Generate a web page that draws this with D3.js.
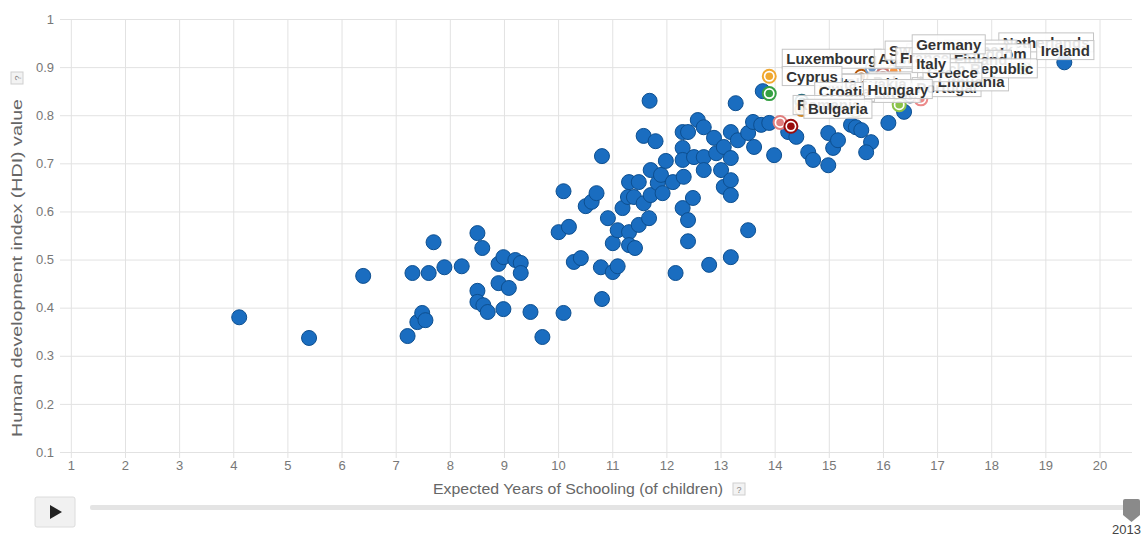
<!DOCTYPE html>
<html>
<head>
<meta charset="utf-8">
<script src="https://cdn.jsdelivr.net/npm/d3@7"></script>
<style>
  html, body { margin: 0; padding: 0; background: #fff; }
  svg { display: block; font-family: "Liberation Sans", Arial, sans-serif; }
</style>
</head>
<body>
<svg id="chart" width="1141" height="537"></svg>
<script>
// ---------------- DATA ----------------
const xTicks = [1,2,3,4,5,6,7,8,9,10,11,12,13,14,15,16,17,18,19,20];
const yTicks = [0.1,0.2,0.3,0.4,0.5,0.6,0.7,0.8,0.9,1];
const yTickLabels = ["0.1","0.2","0.3","0.4","0.5","0.6","0.7","0.8","0.9","1"];
const xTitle = "Expected Years of Schooling (of children)";
const yTitle = "Human development index (HDI) value";
const yearLabel = "2013";

// all other countries (expected years of schooling, HDI)
const schooling = [4.11,5.40,6.40,7.22,7.31,7.40,7.49,7.55,7.61,7.70,7.90,8.22,8.51,8.60,8.51,8.51,8.62,8.70,8.90,8.99,
  9.21,9.31,9.31,8.90,9.09,8.99,9.49,9.71,10.01,10.20,10.10,10.10,10.29,10.42,10.51,10.62,10.71,10.81,10.79,10.81,
  10.92,11.01,11.01,11.10,11.10,11.19,11.31,11.29,11.40,11.31,11.31,11.42,11.49,11.49,11.58,11.58,11.68,11.69,11.71,11.71,
  11.80,11.84,11.90,11.93,11.99,12.12,12.17,12.30,12.40,12.30,12.30,12.32,12.30,12.40,12.40,12.49,12.51,12.58,12.69,12.69,
  12.69,12.79,12.88,12.92,13.01,13.06,13.06,13.19,13.19,13.19,13.19,13.19,13.28,13.32,13.51,13.51,13.60,13.62,13.75,13.78,
  13.90,13.99,14.25,14.40,14.62,14.71,14.99,14.99,15.08,15.17,15.41,15.50,15.60,15.78,15.69,16.10,16.39,19.35];
const hdi = [0.380,0.337,0.466,0.341,0.472,0.370,0.389,0.374,0.472,0.536,0.484,0.486,0.555,0.524,0.435,0.412,0.405,0.391,0.491,0.505,
  0.499,0.493,0.472,0.451,0.441,0.397,0.391,0.339,0.557,0.568,0.389,0.642,0.495,0.503,0.611,0.620,0.638,0.715,0.484,0.418,
  0.586,0.534,0.474,0.486,0.561,0.607,0.661,0.630,0.630,0.557,0.530,0.524,0.661,0.572,0.757,0.617,0.586,0.830,0.686,0.634,
  0.746,0.659,0.676,0.638,0.705,0.661,0.472,0.765,0.765,0.732,0.707,0.672,0.607,0.582,0.538,0.628,0.713,0.790,0.775,0.713,
  0.686,0.489,0.753,0.721,0.686,0.734,0.651,0.765,0.711,0.665,0.634,0.505,0.825,0.748,0.763,0.561,0.786,0.734,0.780,0.850,
  0.784,0.717,0.765,0.755,0.723,0.707,0.696,0.763,0.732,0.748,0.780,0.775,0.769,0.744,0.723,0.784,0.807,0.910];

// selected (labelled) countries, in drawing order
const euCountries = ["Netherlands","Denmark","Spain","Slovenia","Belgium","United Kingdom","Estonia","Poland","Latvia",
  "Slovakia","Malta","Portugal","Luxembourg","Austria","Sweden","France","Finland","Lithuania","Czech Republic","Greece",
  "Italy","Germany","Ireland","Cyprus","Croatia","Hungary","Romania","Bulgaria"];
const euSchooling = [17.9,16.9,17.1,16.8,16.2,16.2,16.5,15.5,15.5,15.0,14.5,16.3,13.9,15.6,15.8,16.0,17.0,16.7,16.4,16.5,
  16.3,16.3,18.6,13.9,14.5,15.4,14.1,14.3];
const euHdi = [0.915,0.900,0.869,0.874,0.881,0.892,0.840,0.834,0.810,0.830,0.829,0.822,0.881,0.881,0.898,0.884,0.879,0.834,
  0.861,0.853,0.872,0.911,0.899,0.845,0.812,0.818,0.785,0.777];
const euColors = ["#6a9fd8","#c0504d","#9bbb59","#8064a2","#4bacc6","#f79646","#2c4d75","#772c2a","#5f7530",
  "#4d3b62","#276a7c","#8bc34a","#f0a830","#b65708","#729aca","#cd7371","#afc97a","#ec8a8a","#a99bbd","#6fbdd1",
  "#f9ab6b","#3a6ea5","#5aa05a","#35a043","#d08a2c","#7b5aa6","#e07f7f","#9a0d0d"];

// ---------------- LAYOUT ----------------
const svg = d3.select("#chart");
const L = 60, R = 1132, T = 19, B = 452;
const x = d3.scaleLinear().domain([0.8, 20.6]).range([L, R]);
const y = d3.scaleLinear().domain([0.1, 1]).range([B, T]);
const gridColor = "#e2e2e2";
const tickColor = "#777";

// horizontal grid + y labels
const yAxis = d3.axisLeft(y).tickValues(yTicks).tickSize(-(R - L)).tickPadding(6)
  .tickFormat((d, i) => yTickLabels[i]);
const gy = svg.append("g").attr("transform", `translate(${L},0)`).call(yAxis);
gy.select(".domain").remove();
gy.selectAll(".tick line").attr("stroke", gridColor);
gy.selectAll(".tick text").attr("fill", tickColor).style("font-size", "13px")
  .style("font-family", '"Liberation Sans", Arial, sans-serif');

// vertical grid
const xGrid = d3.axisBottom(x).tickValues(xTicks).tickSize(-(B - T)).tickFormat("");
const gxg = svg.append("g").attr("transform", `translate(0,${B})`).call(xGrid);
gxg.select(".domain").remove();
gxg.selectAll(".tick line").attr("stroke", gridColor);

// x ticks + labels
const xAxis = d3.axisBottom(x).tickValues(xTicks).tickSize(6).tickPadding(3);
const gx = svg.append("g").attr("transform", `translate(0,${B})`).call(xAxis);
gx.select(".domain").remove();
gx.selectAll(".tick line").attr("stroke", gridColor);
gx.selectAll(".tick text").attr("fill", tickColor).style("font-size", "13px")
  .style("font-family", '"Liberation Sans", Arial, sans-serif');

// helper for "?" boxes
function helpBox(g, cx, cy, rotate) {
  const hb = g.append("g").attr("transform", `translate(${cx},${cy})${rotate ? " rotate(-90)" : ""}`);
  hb.append("rect").attr("x", -6).attr("y", -6).attr("width", 12).attr("height", 12)
    .attr("fill", "#f3f3f3").attr("stroke", "#cfcfcf");
  hb.append("text").attr("text-anchor", "middle").attr("y", 3.5).attr("font-size", 9)
    .attr("fill", "#888").text("?");
}

// x title
svg.append("text").attr("x", 578).attr("y", 494).attr("text-anchor", "middle")
  .attr("fill", "#666").style("font-size", "15px")
  .attr("textLength", 290).attr("lengthAdjust", "spacingAndGlyphs").text(xTitle);
helpBox(svg, 739, 489, false);

// y title
svg.append("text").attr("transform", "translate(22,268) rotate(-90)").attr("text-anchor", "middle")
  .attr("fill", "#666").style("font-size", "15px")
  .attr("textLength", 338).attr("lengthAdjust", "spacingAndGlyphs").text(yTitle);
helpBox(svg, 17, 78, true);

// ---------------- POINTS ----------------
const pts = schooling.map((s, i) => ({ s, h: hdi[i] }));
svg.append("g").selectAll("circle").data(pts).join("circle")
  .attr("cx", d => x(d.s)).attr("cy", d => y(d.h)).attr("r", 7.5)
  .attr("fill", "#1a6dc0").attr("stroke", "#0d4f90").attr("stroke-width", 1);

const eu = euCountries.map((n, i) => ({ n, s: euSchooling[i], h: euHdi[i], c: euColors[i] }));
const eg = svg.append("g").selectAll("g").data(eu).join("g")
  .attr("transform", d => `translate(${x(d.s)},${y(d.h)})`);
eg.append("circle").attr("r", 6.5).attr("fill", "#fff").attr("stroke", d => d.c).attr("stroke-width", 2);
eg.append("circle").attr("r", 3.8).attr("fill", d => d.c);

// ---------------- LABELS ----------------
const lg = svg.append("g");
eu.forEach(d => {
  const px = x(d.s) + 13, py = y(d.h) - 27;
  const g = lg.append("g").attr("transform", `translate(${px},${py})`);
  const rect = g.append("rect").attr("height", 19).attr("fill", "#fff").attr("fill-opacity", 0.88)
    .attr("stroke", "#c4c4c4").attr("stroke-width", 1);
  const t = g.append("text").attr("x", 4).attr("y", 15).attr("fill", "#333")
    .style("font-size", "15px").style("font-weight", "bold").text(d.n);
  const w = t.node().getComputedTextLength();
  rect.attr("width", w + 8);
});

// ---------------- PLAY CONTROL ----------------
const ctrl = svg.append("g");
ctrl.append("rect").attr("x", 35).attr("y", 497).attr("width", 40).attr("height", 30).attr("rx", 2)
  .attr("fill", "#f1f1f1").attr("stroke", "#dcdcdc");
ctrl.append("path").attr("d", "M50,505 L50,519 L62,512 Z").attr("fill", "#222");
ctrl.append("rect").attr("x", 90).attr("y", 505).attr("width", 1045).attr("height", 5).attr("rx", 2)
  .attr("fill", "#e4e4e4");
ctrl.append("path").attr("d", "M1123,501 Q1123,499 1125,499 L1138,499 Q1140,499 1140,501 L1140,515 L1131.5,522 L1123,515 Z")
  .attr("fill", "#8a8a8a");
ctrl.append("text").attr("x", 1141).attr("y", 534).attr("text-anchor", "end")
  .attr("fill", "#444").style("font-size", "13px").text(yearLabel);
</script>
</body>
</html>
